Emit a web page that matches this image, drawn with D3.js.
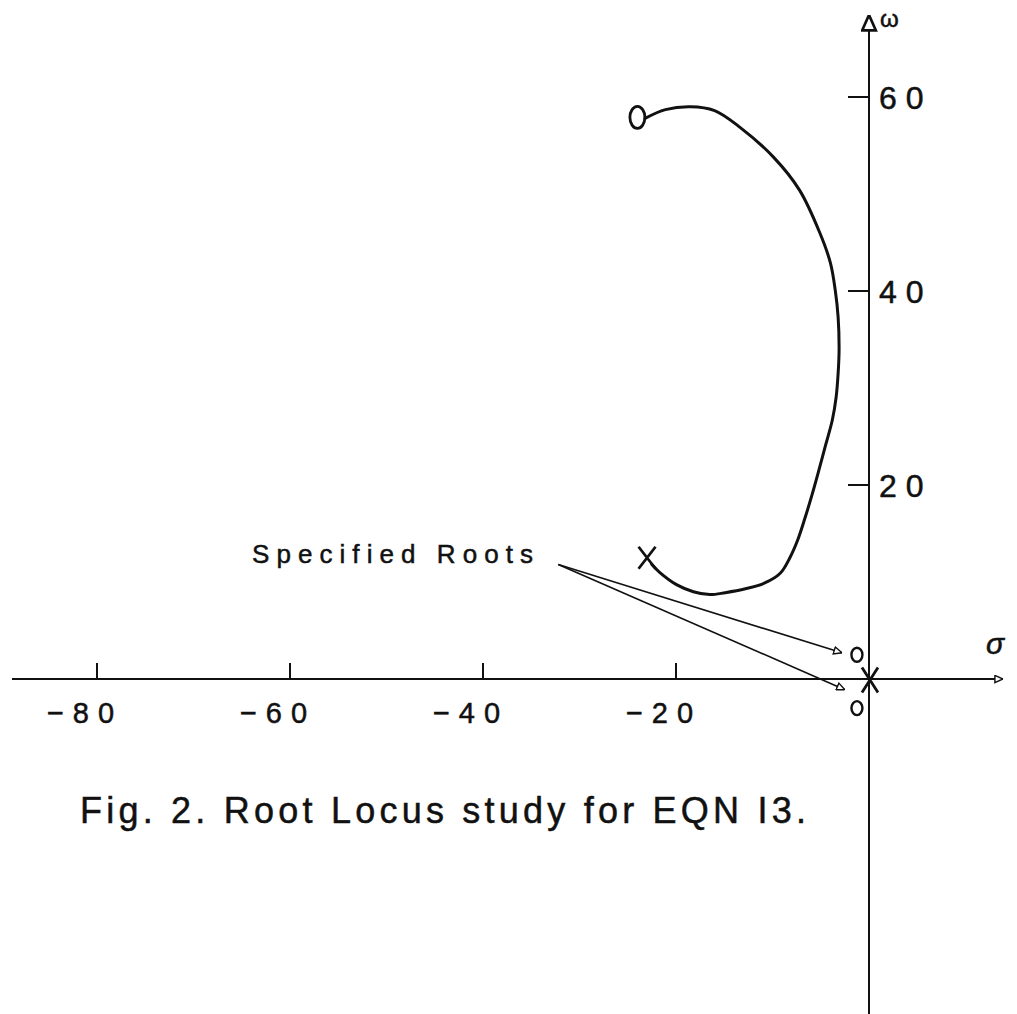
<!DOCTYPE html>
<html>
<head>
<meta charset="utf-8">
<script src="https://cdn.jsdelivr.net/npm/d3@7"></script>
<style>
  body { margin: 0; background: #fff; }
  svg { display: block; }
  text { font-family: "Liberation Sans", Arial, sans-serif; fill: #111; stroke: #111; stroke-width: 0.5; }
</style>
</head>
<body>
<div id="chart"></div>
<script>
// tick values on both axes
const xTicks = [-80, -60, -40, -20];
const yTicks = [20, 40, 60];

// root locus branch, from the zero (O) down to the pole (X)
const locus = [
  [-23.2, 57.8], [-21.1, 58.7], [-18.5, 59.0], [-16.0, 58.6], [-13.4, 56.9],
  [-9.9, 53.8], [-7.2, 50.4], [-5.1, 46.0], [-4.0, 42.9], [-3.5, 40.1],
  [-3.2, 37.3], [-3.1, 33.9], [-3.2, 31.5], [-3.4, 29.1], [-3.8, 26.7],
  [-4.5, 24.1], [-5.2, 21.5], [-5.9, 19.0], [-6.6, 16.7], [-7.4, 14.3],
  [-8.2, 12.5], [-9.2, 10.9], [-10.8, 9.9], [-12.8, 9.3], [-14.9, 8.9],
  [-16.5, 8.7], [-18.2, 9.0], [-19.9, 9.7], [-21.7, 11.0], [-22.5, 11.8]
];

// poles drawn as X, zeros drawn as O
const poles = [[-23.0, 12.5], [0.1, -0.1]];
const bigZeros = [[-24.0, 57.9]];
const specifiedRoots = [[-1.25, 2.5], [-1.25, -3.0]];

// leader lines from the "Specified Roots" label
const leaderStart = [-32.2, 11.8];
const leaderEnds = [[-2.8, 2.7], [-2.5, -1.1]];

const W = 1017, H = 1014;

const svg = d3.select("#chart").append("svg")
  .attr("width", W).attr("height", H);

const x = d3.scaleLinear().domain([-80, 0]).range([97, 869]);
const y = d3.scaleLinear().domain([0, 60]).range([679, 97]);

const defs = svg.append("defs");
function triMarker(id, size) {
  defs.append("marker")
    .attr("id", id)
    .attr("viewBox", "0 0 10 10")
    .attr("refX", 10).attr("refY", 5)
    .attr("markerWidth", size).attr("markerHeight", size)
    .attr("markerUnits", "userSpaceOnUse")
    .attr("orient", "auto")
    .append("path")
    .attr("d", "M1,1 L10,5 L1,9 Z")
    .attr("fill", "#fff")
    .attr("stroke", "#111")
    .attr("stroke-width", 1.6);
}
triMarker("openTri", 9);
triMarker("bigTri", 17);

// horizontal (sigma) axis
svg.append("line")
  .attr("x1", 12).attr("x2", 1003)
  .attr("y1", y(0)).attr("y2", y(0))
  .attr("stroke", "#111").attr("stroke-width", 1.8)
  .attr("marker-end", "url(#openTri)");

// vertical (omega) axis
svg.append("line")
  .attr("x1", x(0)).attr("x2", x(0))
  .attr("y1", H).attr("y2", 15)
  .attr("stroke", "#111").attr("stroke-width", 2)
  .attr("marker-end", "url(#bigTri)");

// x ticks go up from the axis, labels below
const xt = svg.append("g");
xt.selectAll("line").data(xTicks).join("line")
  .attr("x1", d => x(d)).attr("x2", d => x(d))
  .attr("y1", y(0)).attr("y2", y(0) - 16)
  .attr("stroke", "#111").attr("stroke-width", 2);
xt.selectAll("text").data(xTicks).join("text")
  .attr("x", d => x(d) - 12)
  .attr("y", d => y(0) + 44)
  .attr("text-anchor", "middle")
  .attr("font-size", 29)
  .attr("letter-spacing", 9)
  .text(d => "\u2212" + Math.abs(d));

// y ticks go left of the axis, labels on the right
const yt = svg.append("g");
yt.selectAll("line").data(yTicks).join("line")
  .attr("x1", x(0) - 21).attr("x2", x(0))
  .attr("y1", d => y(d)).attr("y2", d => y(d))
  .attr("stroke", "#111").attr("stroke-width", 2);
yt.selectAll("text").data(yTicks).join("text")
  .attr("x", x(0) + 10)
  .attr("y", d => y(d) + 12)
  .attr("font-size", 32)
  .attr("letter-spacing", 9)
  .text(d => d);

// axis names
svg.append("text")
  .attr("x", x(0) + 11).attr("y", 27)
  .attr("font-size", 24)
  .text("ω");
svg.append("text")
  .attr("x", 986).attr("y", 654)
  .attr("font-size", 30)
  .attr("font-style", "italic")
  .text("σ");

// the locus curve
const line = d3.line()
  .x(d => x(d[0]))
  .y(d => y(d[1]))
  .curve(d3.curveCatmullRom.alpha(0.5));

svg.append("path")
  .datum(locus)
  .attr("d", line)
  .attr("fill", "none")
  .attr("stroke", "#111")
  .attr("stroke-width", 3)
  .attr("stroke-linecap", "round");

// X marks for poles
const poleSize = [[8.5, 11], [8, 12.5]];
svg.selectAll("path.pole").data(poles).join("path")
  .attr("class", "pole")
  .attr("d", (d, i) => {
    const cx = x(d[0]), cy = y(d[1]);
    const [hx, hy] = poleSize[i];
    return `M${cx - hx},${cy - hy}L${cx + hx},${cy + hy}M${cx + hx},${cy - hy}L${cx - hx},${cy + hy}`;
  })
  .attr("fill", "none")
  .attr("stroke", "#111")
  .attr("stroke-width", 2.8);

// O marks for zeros
svg.selectAll("ellipse.zero").data(bigZeros).join("ellipse")
  .attr("class", "zero")
  .attr("cx", d => x(d[0])).attr("cy", d => y(d[1]))
  .attr("rx", 7.5).attr("ry", 11)
  .attr("fill", "none").attr("stroke", "#111").attr("stroke-width", 2.8);

svg.selectAll("ellipse.root").data(specifiedRoots).join("ellipse")
  .attr("class", "root")
  .attr("cx", d => x(d[0])).attr("cy", d => y(d[1]))
  .attr("rx", 5.5).attr("ry", 7)
  .attr("fill", "none").attr("stroke", "#111").attr("stroke-width", 2.4);

// leader lines with arrowheads
svg.selectAll("line.leader").data(leaderEnds).join("line")
  .attr("class", "leader")
  .attr("x1", x(leaderStart[0])).attr("y1", y(leaderStart[1]))
  .attr("x2", d => x(d[0])).attr("y2", d => y(d[1]))
  .attr("stroke", "#111").attr("stroke-width", 1.6)
  .attr("marker-end", "url(#openTri)");

// labels
svg.append("text")
  .attr("x", 252).attr("y", 563)
  .attr("font-size", 26)
  .attr("textLength", 281)
  .attr("lengthAdjust", "spacing")
  .text("Specified Roots");

svg.append("text")
  .attr("x", 80).attr("y", 823)
  .attr("font-size", 36)
  .attr("textLength", 726)
  .attr("lengthAdjust", "spacing")
  .text("Fig.  2. Root Locus study for EQN I3.");
</script>
</body>
</html>
